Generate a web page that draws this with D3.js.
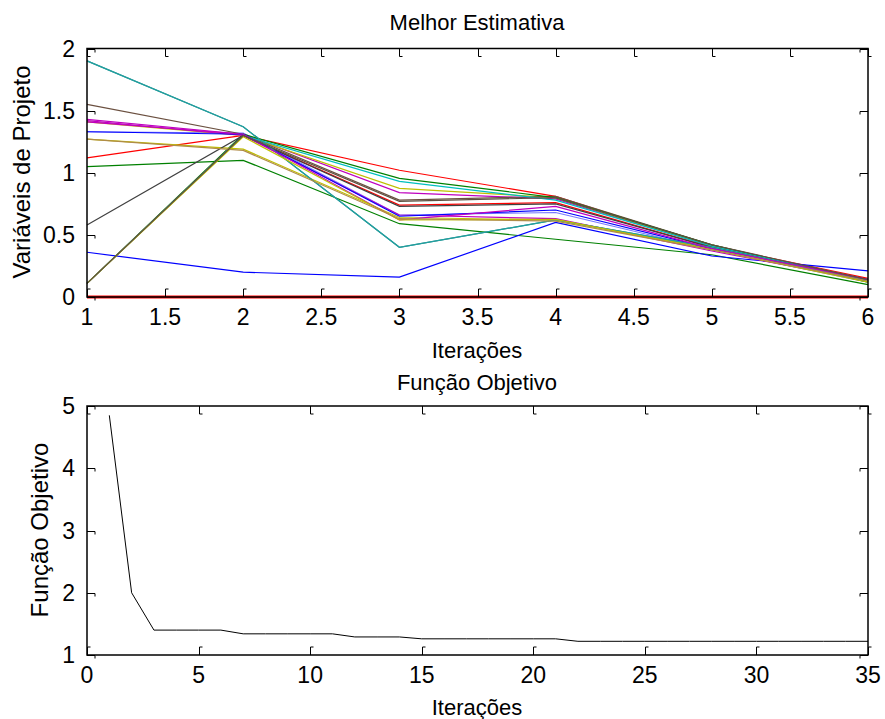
<!DOCTYPE html>
<html>
<head>
<meta charset="utf-8">
<script src="https://cdn.jsdelivr.net/npm/d3@7/dist/d3.min.js"></script>
<style>
  body { margin: 0; background: #fff; }
  svg text { font-family: Arial, "Liberation Sans", sans-serif; fill: #000; }
</style>
</head>
<body>
<div id="chart"></div>
<script>
// Data
// ------------------------------

var iteracoes = [1, 2, 3, 4, 5, 6];

// one row per design variable (best estimate per iteration)
var melhorEstimativa = [
  [1.33, 1.32, 0.66, 0.68, 0.38, 0.12],
  [1.05, 1.10, 0.59, 0.465, 0.34, 0.10],
  [1.12, 1.30, 1.02, 0.81, 0.41, 0.15],
  [1.90, 1.37, 0.40, 0.62, 0.40, 0.13],
  [1.43, 1.31, 0.84, 0.79, 0.41, 0.14],
  [1.41, 1.30, 0.875, 0.80, 0.41, 0.14],
  [1.55, 1.31, 0.78, 0.81, 0.42, 0.13],
  [0.36, 0.20, 0.16, 0.60, 0.33, 0.21],
  [0.11, 1.31, 0.955, 0.80, 0.42, 0.12],
  [0.11, 1.30, 0.74, 0.76, 0.40, 0.14],
  [0.11, 1.30, 0.93, 0.78, 0.41, 0.13],
  [1.42, 1.30, 0.66, 0.63, 0.37, 0.13],
  [1.27, 1.19, 0.64, 0.62, 0.39, 0.13],
  [0.58, 1.30, 0.73, 0.75, 0.40, 0.13],
  [1.33, 1.31, 0.65, 0.70, 0.39, 0.14],
  [1.90, 1.37, 0.40, 0.62, 0.40, 0.13],
  [1.41, 1.31, 0.62, 0.73, 0.39, 0.14],
  [0.11, 1.29, 0.62, 0.625, 0.38, 0.12],
  [1.27, 1.18, 0.63, 0.61, 0.38, 0.13],
  [0.11, 1.30, 0.77, 0.80, 0.42, 0.14],
  [0, 0, 0, 0, 0, 0]
];

var coresSeries = [
  '#7878ff', '#008000', '#ff0000', '#2e8b8b', '#bf00bf', '#bfbf00', '#6b5040',
  '#0000ff', '#008000', '#ff0000', '#00bfbf', '#bf00bf', '#bfbf00', '#404040',
  '#0000ff', '#20a0a0', '#bf00bf', '#bfbf00', '#b08c48', '#5e5040', '#ff0000'
];

var xTicksTopo = [1, 1.5, 2, 2.5, 3, 3.5, 4, 4.5, 5, 5.5, 6];
var yTicksTopo = [0, 0.5, 1, 1.5, 2];

var funcaoObjetivo = [
  4.85, 2.00, 1.40, 1.40, 1.40, 1.40, 1.34, 1.34, 1.34, 1.34, 1.34,
  1.29, 1.29, 1.29, 1.26, 1.26, 1.26, 1.26, 1.26, 1.26, 1.26,
  1.22, 1.22, 1.22, 1.22, 1.22, 1.22, 1.22, 1.22, 1.22, 1.22, 1.22, 1.22, 1.22, 1.22
];

var xTicksBaixo = [0, 5, 10, 15, 20, 25, 30, 35];
var yTicksBaixo = [1, 2, 3, 4, 5];

// Setup
// ------------------------------

var width = 885, height = 719;
var left = 87, right = 868;

var svg = d3.select('#chart').append('svg')
    .attr('width', width)
    .attr('height', height);

var tickFont = 23, labelFont = 22, ylabelFont = 24;

function drawAxesBox(g, x, y, xTicks, yTicks, fmt) {
  var x0 = x.range()[0], x1 = x.range()[1];
  var yb = y.range()[0], yt = y.range()[1];
  var tl = 8, hook = 3;

  // ticks (inside, bottom/top/left/right), with the little hook MATLAB leaves
  xTicks.forEach(function(t) {
    var px = Math.round(x(t)) + 0.5;
    g.append('path')
        .attr('d', 'M' + px + ',' + yb + 'V' + (yb - tl) + 'h' + hook +
                   'M' + px + ',' + yt + 'V' + (yt + tl) + 'h' + hook)
        .attr('fill', 'none').attr('stroke', '#000').attr('stroke-width', 1);
  });
  yTicks.forEach(function(t) {
    var py = Math.round(y(t)) + 0.5;
    g.append('path')
        .attr('d', 'M' + x0 + ',' + py + 'H' + (x0 + tl) + 'v' + hook +
                   'M' + x1 + ',' + py + 'H' + (x1 - tl) + 'v' + hook)
        .attr('fill', 'none').attr('stroke', '#000').attr('stroke-width', 1);
  });

  g.append('rect')
      .attr('x', x0).attr('y', yt)
      .attr('width', x1 - x0).attr('height', yb - yt)
      .attr('fill', 'none').attr('stroke', '#000').attr('stroke-width', 1.5);

  g.selectAll('.xt').data(xTicks).enter().append('text')
      .attr('x', function(d) { return x(d); })
      .attr('y', yb + 28)
      .attr('text-anchor', 'middle')
      .style('font-size', tickFont + 'px')
      .text(fmt);

  g.selectAll('.yt').data(yTicks).enter().append('text')
      .attr('x', x0 - 12)
      .attr('y', function(d) { return y(d) + 8; })
      .attr('text-anchor', 'end')
      .style('font-size', tickFont + 'px')
      .text(fmt);
}

// Top plot: Melhor Estimativa
// ------------------------------

var xTopo = d3.scaleLinear().domain([1, 6]).range([left, right]);
var yTopo = d3.scaleLinear().domain([0, 2]).range([297, 48.5]);

var gTopo = svg.append('g');

var linhaTopo = d3.line()
    .x(function(d, i) { return xTopo(iteracoes[i]); })
    .y(function(d) { return yTopo(d); });

gTopo.selectAll('.serie').data(melhorEstimativa).enter().append('path')
    .attr('class', 'serie')
    .attr('d', linhaTopo)
    .attr('fill', 'none')
    .attr('stroke', function(d, i) { return coresSeries[i]; })
    .attr('stroke-width', function(d) { return d.every(function(v) { return v === 0; }) ? 3 : 1.2; });

drawAxesBox(gTopo, xTopo, yTopo, xTicksTopo, yTicksTopo, function(d) { return String(d); });

svg.append('text')
    .attr('x', 477).attr('y', 30)
    .attr('text-anchor', 'middle')
    .style('font-size', labelFont + 'px')
    .text('Melhor Estimativa');

svg.append('text')
    .attr('x', 477).attr('y', 358)
    .attr('text-anchor', 'middle')
    .style('font-size', labelFont + 'px')
    .text('Iterações');

svg.append('text')
    .attr('transform', 'translate(30,172) rotate(-90)')
    .attr('text-anchor', 'middle')
    .style('font-size', ylabelFont + 'px')
    .text('Variáveis de Projeto');

// Bottom plot: Função Objetivo
// ------------------------------

var xBaixo = d3.scaleLinear().domain([0, 35]).range([left, right]);
var yBaixo = d3.scaleLinear().domain([1, 5]).range([655, 406]);

var gBaixo = svg.append('g');

gBaixo.append('path')
    .datum(funcaoObjetivo)
    .attr('d', d3.line()
        .x(function(d, i) { return xBaixo(i + 1); })
        .y(function(d) { return yBaixo(d); }))
    .attr('fill', 'none')
    .attr('stroke', '#000')
    .attr('stroke-width', 1);

drawAxesBox(gBaixo, xBaixo, yBaixo, xTicksBaixo, yTicksBaixo, function(d) { return String(d); });

svg.append('text')
    .attr('x', 477).attr('y', 390)
    .attr('text-anchor', 'middle')
    .style('font-size', labelFont + 'px')
    .text('Função Objetivo');

svg.append('text')
    .attr('x', 477).attr('y', 715)
    .attr('text-anchor', 'middle')
    .style('font-size', labelFont + 'px')
    .text('Iterações');

svg.append('text')
    .attr('transform', 'translate(48,530) rotate(-90)')
    .attr('text-anchor', 'middle')
    .style('font-size', ylabelFont + 'px')
    .text('Função Objetivo');
</script>
</body>
</html>
